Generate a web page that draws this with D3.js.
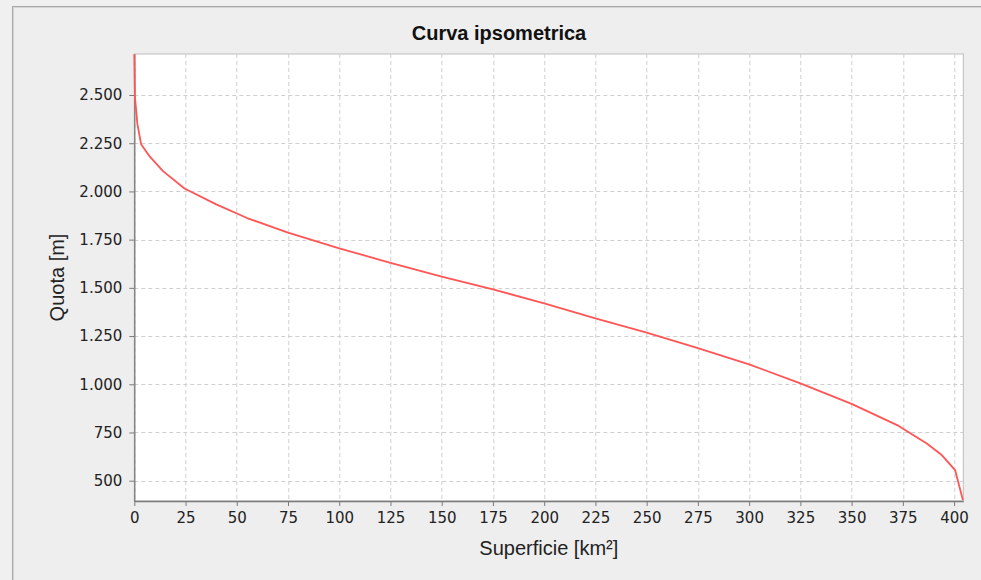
<!DOCTYPE html>
<html>
<head>
<meta charset="utf-8">
<script src="https://cdn.jsdelivr.net/npm/d3@7"></script>
<style>
  body { margin: 0; background: #f0f0f0; overflow: hidden; }
  svg { display: block; }
</style>
</head>
<body>
<svg id="chart"></svg>
<script>
// superficie cumulata (km²) e quota (m)
const superficie = [0, 0.3, 1.5, 3.3, 7.6, 14, 24.5, 40, 55, 75, 100, 125, 150, 175, 200, 225, 250, 275, 300, 325, 350, 373, 380, 386.5, 394, 400.5, 404.3];
const quota = [2712, 2490, 2350, 2245, 2180, 2105, 2015, 1933, 1862, 1786, 1705, 1630, 1558, 1492, 1420, 1342, 1268, 1188, 1103, 1005, 898, 784, 737, 694, 633, 555, 400];

const xTicks = [0, 25, 50, 75, 100, 125, 150, 175, 200, 225, 250, 275, 300, 325, 350, 375, 400];
const yTicks = [500, 750, 1000, 1250, 1500, 1750, 2000, 2250, 2500];

const titolo = "Curva ipsometrica";
const labelX = "Superficie [km²]";
const labelY = "Quota [m]";

let width = 981, height = 580;
let margin = {top: 54, right: 17.7, bottom: 79, left: 134.3};
let w = width - margin.left - margin.right;
let h = height - margin.top - margin.bottom;

// formato italiano: 2.500
const it = d3.formatLocale({decimal: ",", thousands: ".", grouping: [3], currency: ["€", ""]});
const fmt = it.format(",d");

let svg = d3.select("#chart").attr("width", width).attr("height", height);

// pannello del grafico
svg.append("rect")
  .attr("x", 12.5).attr("y", 6.5)
  .attr("width", 1000).attr("height", 600)
  .attr("fill", "#eeeeee")
  .attr("stroke", "#a8a8a8");
svg.append("rect")
  .attr("x", 13.5).attr("y", 7.5)
  .attr("width", 1000).attr("height", 600)
  .attr("fill", "none")
  .attr("stroke", "#d4d4d4");

svg.append("text")
  .text(titolo)
  .attr("x", 499).attr("y", 40)
  .attr("text-anchor", "middle")
  .attr("font-family", "Liberation Sans, Arial, sans-serif")
  .attr("font-weight", "bold")
  .attr("font-size", 20)
  .attr("fill", "#111");

let chart = svg.append("g")
  .attr("transform", "translate(" + margin.left + "," + margin.top + ")");

let x = d3.scaleLinear().domain([0, 404.5]).range([0, w]);
let y = d3.scaleLinear().domain([394.7, 2712.6]).range([h, 0]);

chart.append("rect")
  .attr("width", w).attr("height", h)
  .attr("fill", "#ffffff")
  .attr("stroke", "#bdbdbd");

// griglia tratteggiata
chart.append("g").selectAll("line")
  .data(xTicks).enter().append("line")
  .attr("x1", d => Math.round(x(d)) + 0.5).attr("x2", d => Math.round(x(d)) + 0.5)
  .attr("y1", 0).attr("y2", h)
  .attr("stroke", "#cfcfcf").attr("stroke-dasharray", "4,3");
chart.append("g").selectAll("line")
  .data(yTicks).enter().append("line")
  .attr("y1", d => Math.round(y(d)) + 0.5).attr("y2", d => Math.round(y(d)) + 0.5)
  .attr("x1", 0).attr("x2", w)
  .attr("stroke", "#cfcfcf").attr("stroke-dasharray", "4,3");

let xAxis = d3.axisBottom(x).tickValues(xTicks).tickFormat(fmt).tickSize(5).tickSizeOuter(0).tickPadding(6);
let yAxis = d3.axisLeft(y).tickValues(yTicks).tickFormat(fmt).tickSize(5).tickSizeOuter(0).tickPadding(7);

let gx = chart.append("g").attr("transform", "translate(0," + h + ")").call(xAxis);
let gy = chart.append("g").call(yAxis);

[gx, gy].forEach(function(g) {
  g.select(".domain").attr("stroke", "#7a7a7a").attr("stroke-width", 1.3);
  g.selectAll(".tick line").attr("stroke", "#7a7a7a");
  g.selectAll(".tick text")
    .attr("font-family", "DejaVu Sans, sans-serif")
    .attr("font-size", 15)
    .attr("fill", "#222");
});

// curva ipsometrica
let line = d3.line()
  .x((d, i) => x(superficie[i]))
  .y(d => y(d));

chart.append("path")
  .datum(quota)
  .attr("d", line)
  .attr("fill", "none")
  .attr("stroke", "#ff5555")
  .attr("stroke-width", 1.8)
  .attr("stroke-linejoin", "round");

chart.append("text")
  .text(labelX)
  .attr("x", w / 2).attr("y", 501 - margin.top + 54)
  .attr("text-anchor", "middle")
  .attr("font-family", "Liberation Sans, Arial, sans-serif")
  .attr("font-size", 20)
  .attr("fill", "#222");

chart.append("text")
  .text(labelY)
  .attr("transform", "translate(" + (64 - margin.left) + "," + (h / 2) + ") rotate(-90)")
  .attr("text-anchor", "middle")
  .attr("font-family", "Liberation Sans, Arial, sans-serif")
  .attr("font-size", 20)
  .attr("fill", "#222");
</script>
</body>
</html>
